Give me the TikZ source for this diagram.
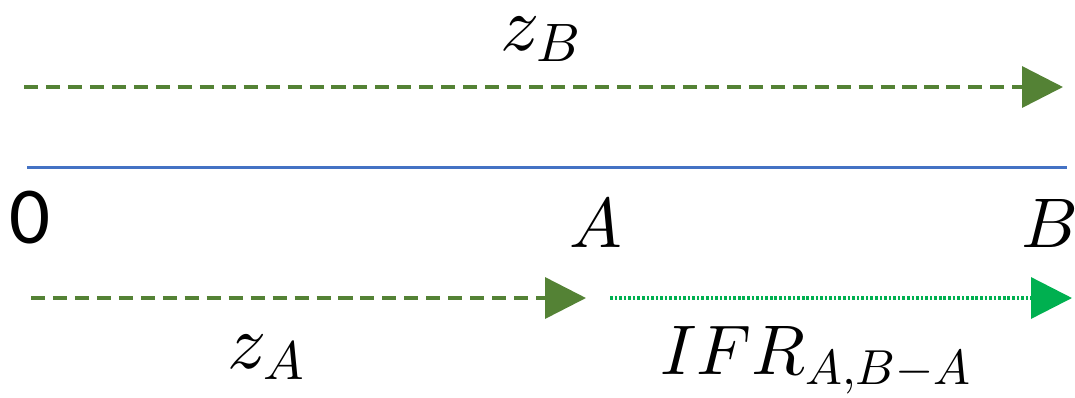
\documentclass[tikz,border=0pt]{standalone}
\usepackage{fontspec}
\usepackage{tikz}
\usetikzlibrary{arrows.meta,positioning}
\usepackage{amsmath}
% scalable math fonts for the large labels
\DeclareFontShape{OML}{cmm}{m}{it}{<->cmmi10}{}
\DeclareFontShape{OMS}{cmsy}{m}{n}{<->cmsy10}{}
\newfontfamily\digitfont{Carlito}
\definecolor{rangeGreen}{HTML}{548235}
\definecolor{rateGreen}{HTML}{00B050}
\definecolor{axisBlue}{HTML}{4472C4}

\begin{document}
\begin{tikzpicture}[x=0.02cm,y=-0.02cm,
  every node/.style={inner sep=0pt,anchor=base,font=\fontsize{40}{48}\selectfont},
  zlabel/.style={font=\fontsize{44}{52}\selectfont},
  greentip/.style={-{Triangle[length=0.82cm,width=0.82cm]}},
  rangearrow/.style={greentip,rangeGreen,line width=2pt,dash pattern=on 8pt off 4.5pt},
  ratearrow/.style={greentip,rateGreen,line width=1.9pt,dash pattern=on 1.5pt off 1.1pt}]
  \useasboundingbox (0,0) rectangle (1075,397);
  % axis
  \coordinate (axisL) at (27,167);
  \coordinate (axisR) at (1067,167);
  \draw[axisBlue,line width=1.7pt](axisL)--(axisR);
  \node (lbl0) at (30,243){\fontsize{46}{52}\selectfont\digitfont 0};
  \node (lblA) at (596,247){$A$};
  \node (lblB) at (1050,247){$B$};
  % z_B on top
  \coordinate (topL) at (24,87);
  \coordinate (topR) at (1063,87);
  \draw[rangearrow](topL)--(topR);
  \node[zlabel] (zB) at (541,50){$z_B$};
  % z_A and the rate below
  \coordinate (lowL) at (31,298);
  \coordinate (lowA) at (586,298);
  \coordinate (rateL) at (610,298);
  \coordinate (rateR) at (1072,298);
  \draw[rangearrow](lowL)--(lowA);
  \draw[ratearrow](rateL)--(rateR);
  \node[zlabel] (zA) at (266,368){$z_A$};
  \node (ifr) at (816,374){$IFR_{A,B-A}$};
\end{tikzpicture}
\end{document}
